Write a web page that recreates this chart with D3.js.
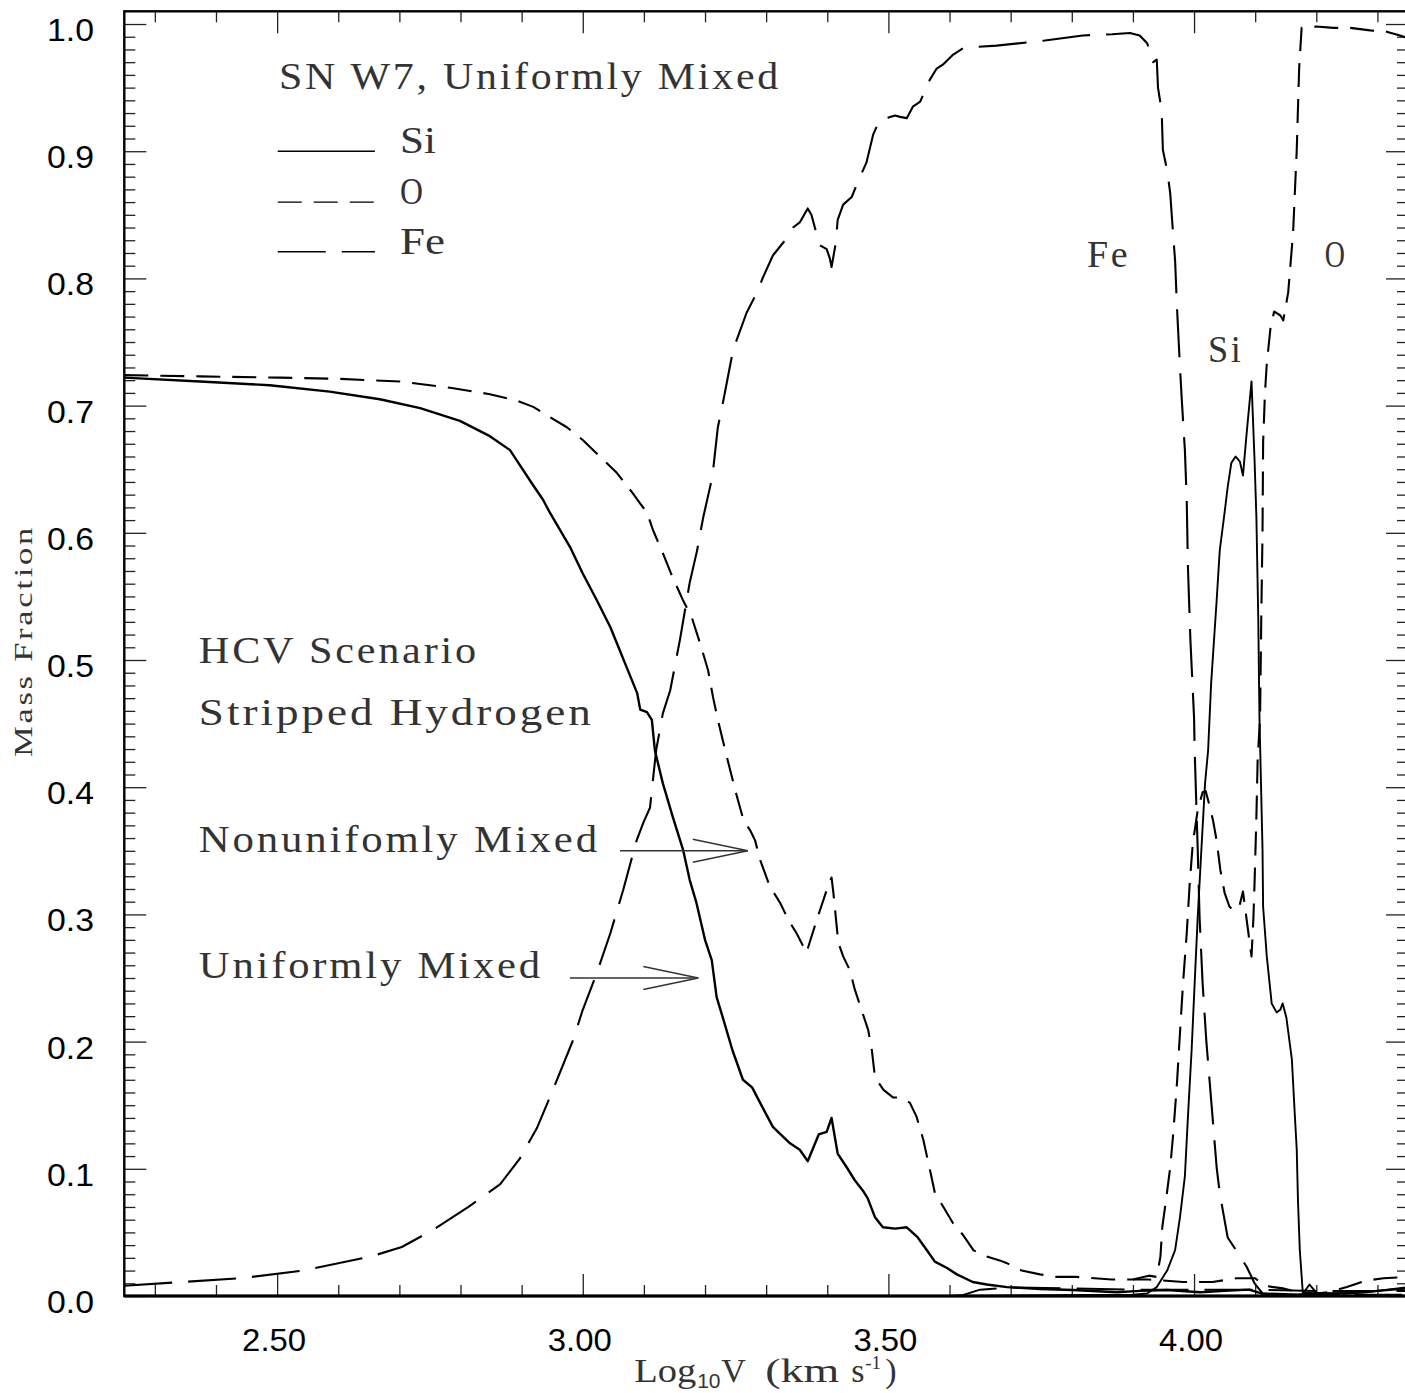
<!DOCTYPE html>
<html>
<head>
<meta charset="utf-8">
<script src="https://cdn.jsdelivr.net/npm/d3@7"></script>
<style>
  body { margin: 0; background: #fff; }
  svg { display: block; background: #fff; }
</style>
</head>
<body>
<svg id="chart" width="1405" height="1393"></svg>
<script>
// HCV scenario, stripped hydrogen  [log10 V, mass fraction]
var hUniform = [[2.25,0.722],[2.374,0.719],[2.488,0.716],[2.586,0.711],[2.668,0.705],[2.734,0.698],[2.799,0.688],[2.848,0.676],[2.881,0.665],[2.892,0.657],[2.918,0.638],[2.935,0.626],[2.946,0.616],[2.979,0.589],[3.000,0.568],[3.023,0.547],[3.045,0.526],[3.056,0.513],[3.072,0.494],[3.089,0.474],[3.094,0.461],[3.105,0.459],[3.113,0.453],[3.118,0.429],[3.131,0.403],[3.147,0.377],[3.164,0.351],[3.175,0.327],[3.186,0.309],[3.200,0.280],[3.211,0.264],[3.219,0.235],[3.229,0.219],[3.245,0.193],[3.262,0.170],[3.277,0.164],[3.290,0.152],[3.311,0.133],[3.339,0.120],[3.355,0.115],[3.368,0.106],[3.386,0.127],[3.399,0.129],[3.407,0.140],[3.417,0.112],[3.432,0.101],[3.445,0.091],[3.458,0.083],[3.466,0.077],[3.478,0.062],[3.491,0.054],[3.511,0.053],[3.530,0.054],[3.548,0.046],[3.563,0.036],[3.576,0.027],[3.596,0.022],[3.612,0.017],[3.638,0.011],[3.661,0.009],[3.694,0.007],[3.748,0.0055],[3.802,0.0047],[3.874,0.003],[3.912,0.004],[3.956,0.0047],[4.010,0.003],[4.05,0.004],[4.09,0.005],[4.11,0.002],[4.17,0.001],[4.20,0.002],[4.25,0.002],[4.30,0.004],[4.35,0.006]];

var hNonuniform = [[2.25,0.724],[2.374,0.723],[2.505,0.722],[2.603,0.721],[2.701,0.719],[2.783,0.714],[2.848,0.709],[2.892,0.704],[2.919,0.699],[2.946,0.691],[2.974,0.683],[3.000,0.673],[3.028,0.660],[3.056,0.647],[3.082,0.631],[3.094,0.623],[3.105,0.616],[3.115,0.602],[3.131,0.584],[3.147,0.565],[3.164,0.547],[3.178,0.534],[3.192,0.513],[3.205,0.492],[3.213,0.471],[3.221,0.453],[3.233,0.429],[3.244,0.408],[3.252,0.393],[3.263,0.374],[3.274,0.366],[3.282,0.358],[3.290,0.343],[3.306,0.322],[3.323,0.309],[3.336,0.296],[3.350,0.285],[3.366,0.270],[3.383,0.296],[3.399,0.319],[3.407,0.329],[3.410,0.317],[3.418,0.278],[3.426,0.267],[3.437,0.256],[3.445,0.241],[3.456,0.225],[3.467,0.209],[3.473,0.193],[3.478,0.172],[3.492,0.162],[3.508,0.156],[3.519,0.156],[3.535,0.152],[3.546,0.141],[3.557,0.123],[3.568,0.099],[3.576,0.081],[3.590,0.070],[3.606,0.057],[3.622,0.048],[3.639,0.036],[3.661,0.031],[3.682,0.028],[3.693,0.026],[3.718,0.020],[3.748,0.017],[3.775,0.015],[3.808,0.015],[3.865,0.013],[3.925,0.013],[3.982,0.011],[4.03,0.011],[4.07,0.014],[4.10,0.014],[4.115,0.008],[4.145,0.006],[4.17,0.003],[4.20,0.002],[4.22,0.003],[4.25,0.007],[4.28,0.012],[4.31,0.014],[4.35,0.015]];

// SN W7, uniformly mixed
var w7Fe = [[2.25,0.008],[2.332,0.0106],[2.441,0.014],[2.543,0.020],[2.653,0.031],[2.704,0.0385],[2.755,0.052],[2.813,0.070],[2.865,0.088],[2.897,0.108],[2.925,0.132],[2.946,0.156],[2.968,0.182],[2.984,0.201],[3.000,0.225],[3.023,0.254],[3.045,0.285],[3.066,0.319],[3.088,0.358],[3.099,0.372],[3.110,0.384],[3.120,0.429],[3.131,0.458],[3.143,0.476],[3.159,0.516],[3.175,0.561],[3.187,0.586],[3.197,0.612],[3.212,0.644],[3.221,0.683],[3.230,0.704],[3.246,0.744],[3.268,0.773],[3.285,0.789],[3.295,0.801],[3.311,0.818],[3.331,0.830],[3.344,0.840],[3.355,0.844],[3.368,0.855],[3.374,0.850],[3.382,0.836],[3.388,0.826],[3.399,0.823],[3.404,0.816],[3.407,0.809],[3.414,0.828],[3.417,0.846],[3.426,0.858],[3.440,0.864],[3.450,0.876],[3.464,0.891],[3.470,0.903],[3.475,0.913],[3.486,0.925],[3.497,0.926],[3.511,0.928],[3.519,0.927],[3.530,0.926],[3.540,0.935],[3.552,0.939],[3.560,0.948],[3.565,0.954],[3.579,0.965],[3.589,0.968],[3.606,0.976],[3.622,0.981],[3.644,0.982],[3.677,0.983],[3.756,0.987],[3.818,0.991],[3.866,0.992],[3.895,0.993],[3.911,0.991],[3.923,0.985],[3.931,0.976],[3.933,0.970],[3.939,0.972],[3.941,0.950],[3.947,0.932],[3.949,0.901],[3.956,0.885],[3.961,0.867],[3.966,0.833],[3.969,0.814],[3.972,0.778],[3.977,0.730],[3.980,0.704],[3.985,0.665],[3.988,0.626],[3.990,0.573],[3.994,0.516],[4.000,0.455],[4.001,0.429],[4.006,0.351],[4.009,0.298],[4.014,0.246],[4.020,0.201],[4.028,0.154],[4.037,0.101],[4.042,0.081],[4.055,0.046],[4.070,0.035],[4.086,0.023],[4.099,0.010],[4.112,0.002],[4.13,0.001],[4.35,0.001]];

var w7Si = [[3.60,0.0],[3.90,0.001],[3.923,0.002],[3.939,0.007],[3.956,0.020],[3.969,0.036],[3.977,0.062],[3.985,0.094],[3.990,0.141],[3.996,0.193],[4.001,0.246],[4.006,0.298],[4.012,0.351],[4.018,0.403],[4.023,0.429],[4.028,0.482],[4.037,0.547],[4.042,0.586],[4.050,0.616],[4.055,0.636],[4.061,0.655],[4.068,0.660],[4.075,0.656],[4.080,0.645],[4.086,0.678],[4.094,0.719],[4.099,0.657],[4.102,0.612],[4.105,0.534],[4.107,0.455],[4.112,0.351],[4.113,0.306],[4.119,0.267],[4.127,0.230],[4.135,0.223],[4.141,0.225],[4.145,0.230],[4.151,0.219],[4.160,0.186],[4.165,0.141],[4.168,0.115],[4.170,0.075],[4.173,0.036],[4.178,0.002],[4.189,0.009],[4.201,0.002],[4.227,0.002],[4.282,0.003],[4.333,0.006],[4.35,0.007]];

var w7O = [[3.90,0.013],[3.926,0.016],[3.939,0.015],[3.945,0.031],[3.948,0.054],[3.954,0.075],[3.961,0.101],[3.966,0.128],[3.972,0.167],[3.977,0.207],[3.982,0.246],[3.988,0.285],[3.993,0.325],[3.998,0.356],[4.006,0.382],[4.014,0.396],[4.019,0.397],[4.024,0.388],[4.031,0.374],[4.037,0.358],[4.043,0.335],[4.050,0.317],[4.058,0.306],[4.066,0.303],[4.074,0.306],[4.080,0.318],[4.086,0.296],[4.094,0.267],[4.097,0.296],[4.099,0.325],[4.102,0.377],[4.104,0.421],[4.108,0.455],[4.110,0.534],[4.112,0.600],[4.113,0.671],[4.116,0.710],[4.119,0.733],[4.125,0.761],[4.131,0.774],[4.141,0.771],[4.146,0.767],[4.154,0.789],[4.162,0.836],[4.168,0.901],[4.172,0.966],[4.176,0.997],[4.200,0.998],[4.228,0.997],[4.255,0.997],[4.288,0.995],[4.315,0.994],[4.337,0.991],[4.35,0.989]];

var feLow = [[3.60,0.0],[3.62,0.0005],[3.65,0.005],[3.70,0.0068],[3.80,0.006],[3.90,0.005],[4.00,0.005],[4.10,0.005],[4.20,0.004],[4.35,0.004]];

var xTicks = [2.5, 3.0, 3.5, 4.0];
var xTickLabels = ["2.50", "3.00", "3.50", "4.00"];
var yTicks = [0, 0.1, 0.2, 0.3, 0.4, 0.5, 0.6, 0.7, 0.8, 0.9, 1.0];
var yTickLabels = ["0.0", "0.1", "0.2", "0.3", "0.4", "0.5", "0.6", "0.7", "0.8", "0.9", "1.0"];

var legendItems = [
  {name: "Si", y: 0.900, dash: null, w: 36},
  {name: "O", y: 0.860, dash: "24,12", w: 23},
  {name: "Fe", y: 0.821, dash: "48,16", w: 45}
];

var notes = [
  {text: "SN W7, Uniformly Mixed", x: 2.503, y: 0.949, w: 502},
  {text: "Fe", x: 3.825, y: 0.809, w: 43},
  {text: "O", x: 4.214, y: 0.809, w: 22},
  {text: "Si", x: 4.023, y: 0.734, w: 35},
  {text: "HCV Scenario", x: 2.372, y: 0.498, w: 280},
  {text: "Stripped Hydrogen", x: 2.372, y: 0.449, w: 395},
  {text: "Nonunifomly Mixed", x: 2.372, y: 0.349, w: 401},
  {text: "Uniformly Mixed", x: 2.372, y: 0.250, w: 344}
];

var arrows = [
  {x0: 3.061, x1: 3.270, y: 0.350},
  {x0: 2.979, x1: 3.189, y: 0.250}
];

var serif = "'Liberation Serif', 'DejaVu Serif', serif";
var sans = "'Liberation Sans', Arial, sans-serif";

var svg = d3.select("#chart");

var x = d3.scaleLinear().domain([2.25, 4.35]).range([124.3, 1408]);
var y = d3.scaleLinear().domain([0, 1.01]).range([1296, 11.3]);

var x0 = x.range()[0], x1 = x.range()[1];
var y0 = y.range()[0], y1 = y.range()[1];

svg.append("defs").append("clipPath").attr("id", "plotClip")
  .append("rect")
  .attr("x", x0).attr("y", y1)
  .attr("width", x1 - x0).attr("height", y0 - y1);

// minor / major ticks, all pointing inward
var xMinor = d3.range(23, 44).map(function(i) { return i / 10; })
  .filter(function(v) { return xTicks.indexOf(v) < 0; });
var yMinor = d3.range(1, 101).filter(function(i) { return i % 10 != 0; })
  .map(function(i) { return i / 100; });

function tickGroup(axis, tx, ty) {
  var g = svg.append("g").attr("transform", "translate(" + tx + "," + ty + ")").call(axis);
  g.select(".domain").remove();
  g.selectAll("text").remove();
  g.selectAll("line").attr("stroke", "#222").attr("stroke-width", 1.3);
  return g;
}

tickGroup(d3.axisBottom(x).tickValues(xMinor).tickSize(-11), 0, y0);
tickGroup(d3.axisBottom(x).tickValues(xTicks).tickSize(-22), 0, y0);
tickGroup(d3.axisTop(x).tickValues(xMinor).tickSize(-11), 0, y1);
tickGroup(d3.axisTop(x).tickValues(xTicks).tickSize(-22), 0, y1);
tickGroup(d3.axisLeft(y).tickValues(yMinor).tickSize(-11), x0, 0);
tickGroup(d3.axisLeft(y).tickValues(yTicks).tickSize(-22), x0, 0);
tickGroup(d3.axisRight(y).tickValues(yMinor).tickSize(-11), x1, 0);
tickGroup(d3.axisRight(y).tickValues(yTicks).tickSize(-22), x1, 0);

// frame
svg.append("rect")
  .attr("x", x0).attr("y", y1)
  .attr("width", x1 - x0).attr("height", y0 - y1)
  .attr("fill", "none").attr("stroke", "#000").attr("stroke-width", 2.4);
svg.append("line")
  .attr("x1", x0).attr("x2", x1).attr("y1", y0).attr("y2", y0)
  .attr("stroke", "#000").attr("stroke-width", 3);

// tick labels
svg.append("g").selectAll("text").data(xTicks).join("text")
  .attr("x", function(d) { return x(d) - 3; })
  .attr("y", 1351)
  .attr("text-anchor", "middle")
  .attr("font-family", sans).attr("font-size", 31)
  .attr("textLength", 64).attr("lengthAdjust", "spacingAndGlyphs")
  .text(function(d, i) { return xTickLabels[i]; });

svg.append("g").selectAll("text").data(yTicks).join("text")
  .attr("x", 94)
  .attr("y", function(d) { return y(d) + 17; })
  .attr("text-anchor", "end")
  .attr("font-family", sans).attr("font-size", 31)
  .attr("textLength", 47).attr("lengthAdjust", "spacingAndGlyphs")
  .text(function(d, i) { return yTickLabels[i]; });

// axis titles
var cx = (x0 + x1) / 2;
var xt = svg.append("text").attr("y", 1382)
  .attr("font-family", serif).attr("font-size", 34).attr("fill", "#333");
xt.append("tspan").attr("x", cx - 132)
  .attr("textLength", 62).attr("lengthAdjust", "spacingAndGlyphs").text("Log");
xt.append("tspan").attr("x", cx - 69).attr("dy", 6)
  .attr("font-family", sans).attr("font-size", 21).text("10");
xt.append("tspan").attr("x", cx - 45).attr("dy", -6).text("V");
xt.append("tspan").attr("x", cx - 1)
  .attr("textLength", 74).attr("lengthAdjust", "spacingAndGlyphs").text("(km");
xt.append("tspan").attr("x", cx + 85).text("s");
xt.append("tspan").attr("x", cx + 99).attr("dy", -13).attr("font-size", 19).text("-1");
xt.append("tspan").attr("x", cx + 119).attr("dy", 13).text(")");

svg.append("text")
  .attr("transform", "translate(32," + 641 + ") rotate(-90)")
  .attr("text-anchor", "middle")
  .attr("font-family", serif).attr("font-size", 25).attr("fill", "#333")
  .attr("letter-spacing", 2)
  .attr("textLength", 232).attr("lengthAdjust", "spacingAndGlyphs")
  .text("Mass Fraction");

// curves
var line = d3.line()
  .x(function(d) { return x(d[0]); })
  .y(function(d) { return y(d[1]); });

var series = [
  {data: feLow, dash: "48,16", width: 2},
  {data: hNonuniform, dash: "24,12", width: 2.1},
  {data: hUniform, dash: null, width: 2.4},
  {data: w7Fe, dash: "48,16", width: 2.1},
  {data: w7O, dash: "24,12", width: 2.1},
  {data: w7Si, dash: null, width: 1.9}
];

svg.append("g").attr("clip-path", "url(#plotClip)")
  .selectAll("path").data(series).join("path")
  .attr("d", function(d) { return line(d.data); })
  .attr("fill", "none")
  .attr("stroke", "#000")
  .attr("stroke-width", function(d) { return d.width; })
  .attr("stroke-dasharray", function(d) { return d.dash; })
  .attr("stroke-linejoin", "round");

// legend
var lg = svg.append("g");
lg.selectAll("line").data(legendItems).join("line")
  .attr("x1", x(2.501)).attr("x2", x(2.660))
  .attr("y1", function(d) { return y(d.y); })
  .attr("y2", function(d) { return y(d.y); })
  .attr("stroke", "#000").attr("stroke-width", 1.4)
  .attr("stroke-dasharray", function(d) { return d.dash; });
lg.selectAll("text").data(legendItems).join("text")
  .attr("x", x(2.701))
  .attr("y", function(d) { return y(d.y) + 2; })
  .attr("font-family", serif).attr("font-size", 37).attr("fill", "#333")
  .attr("textLength", function(d) { return d.w; })
  .attr("lengthAdjust", "spacingAndGlyphs")
  .text(function(d) { return d.name; });

// text notes
svg.append("g").selectAll("text").data(notes).join("text")
  .attr("x", function(d) { return x(d.x); })
  .attr("y", function(d) { return y(d.y); })
  .attr("font-family", serif).attr("font-size", 38).attr("fill", "#333")
  .attr("letter-spacing", 2.5)
  .attr("textLength", function(d) { return d.w; })
  .attr("lengthAdjust", "spacingAndGlyphs")
  .text(function(d) { return d.text; });

// arrows
var ag = svg.append("g").attr("stroke", "#333").attr("stroke-width", 1.4).attr("fill", "none");
arrows.forEach(function(a) {
  var tx = x(a.x1), ty = y(a.y);
  ag.append("line").attr("x1", x(a.x0)).attr("x2", tx).attr("y1", ty).attr("y2", ty);
  ag.append("polyline").attr("points",
    (tx - 55) + "," + (ty - 11.5) + " " + tx + "," + ty + " " + (tx - 55) + "," + (ty + 11.5));
});
</script>
</body>
</html>
